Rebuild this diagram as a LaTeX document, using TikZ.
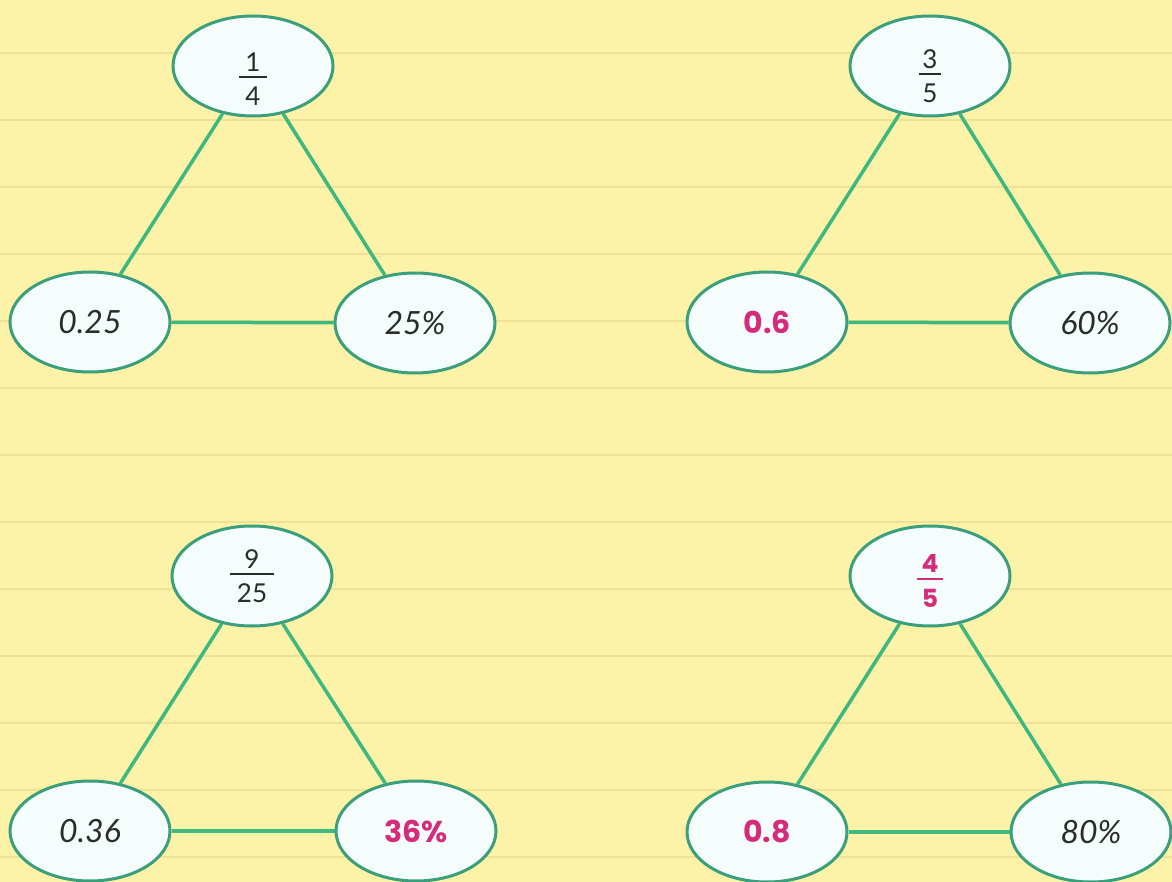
\documentclass[tikz,border=0pt]{standalone}
\usepackage{fontspec}
\setmainfont{Lato}
\newfontfamily\pinkfont{Poppins}
\usetikzlibrary{shapes.geometric}
\definecolor{bgyellow}{HTML}{FDF3A8}
\definecolor{ruledc}{HTML}{F1E196}
\definecolor{ellborder}{HTML}{3A9F7A}
\definecolor{ellfill}{HTML}{F4FCFC}
\definecolor{connc}{HTML}{3DB87E}
\definecolor{pinkc}{HTML}{D42C7B}
\definecolor{ink}{HTML}{2B2B2B}
\newdimen\fracshift
\newcommand\myfrac[5][0pt]{%
  \setbox0=\vbox{\offinterlineskip\halign{\hfil##\hfil\cr
    #4\cr\noalign{\kern5pt}%
    \rule{#2}{#3}\cr\noalign{\kern9pt}%
    #5\cr}}%
  \fracshift=\dimexpr0.5\ht0+#1\relax
  \smash{\lower\fracshift\hbox{\box0}}}
\tikzset{
  ell/.style={ellipse, draw=ellborder, fill=ellfill, line width=3pt,
    minimum width=160pt, minimum height=100pt, inner sep=0pt},
  hand/.style={font=\fontsize{32}{38}\selectfont\itshape, text=ink},
  pinkt/.style={font=\pinkfont\bfseries\fontsize{30}{36}\selectfont, text=pinkc},
  fr/.style={font=\fontsize{26}{30}\selectfont, text=ink},
  pinkfr/.style={font=\pinkfont\bfseries\fontsize{25}{30}\selectfont, text=pinkc},
  conn/.style={draw=connc, line width=3.5pt},
  ruled/.style={draw=ruledc, line width=2pt}
}
\begin{document}
\begin{tikzpicture}[x=1pt,y=-1pt]
\useasboundingbox (0,0) rectangle (1172,882);
\fill[bgyellow] (0,0) rectangle (1172,882);
\foreach \k in {0,...,12} \draw[ruled] (0,{53+67*\k}) -- (1172,{53+67*\k});

% triangle 1
\node[ell,fr] (t1) at (253,66) {\myfrac[13pt]{28pt}{1.8pt}{1}{4}};
\node[ell,hand] (l1) at (90,322) {0.25};
\node[ell,hand] (r1) at (415,323) {25\%};
% triangle 2
\node[ell,fr] (t2) at (930,66) {\myfrac[10pt]{22pt}{1.8pt}{3}{5}};
\node[ell,pinkt] (l2) at (767,322) {0.6};
\node[ell,hand] (r2) at (1090,323) {60\%};
% triangle 3
\node[ell,fr] (t3) at (252,576) {\myfrac[0pt]{44pt}{1.8pt}{9}{25}};
\node[ell,hand] (l3) at (90,831) {0.36};
\node[ell,pinkt] (r3) at (416,831) {36\%};
% triangle 4
\node[ell,pinkfr] (t4) at (930,576) {\myfrac[5pt]{26pt}{2.4pt}{4}{5}};
\node[ell,pinkt] (l4) at (767,832) {0.8};
\node[ell,hand] (r4) at (1091,832) {80\%};

\foreach \i in {1,2,3,4} {
  \draw[conn] (t\i) -- (l\i);
  \draw[conn] (t\i) -- (r\i);
  \draw[conn] (l\i) -- (r\i);
}
\end{tikzpicture}
\end{document}
